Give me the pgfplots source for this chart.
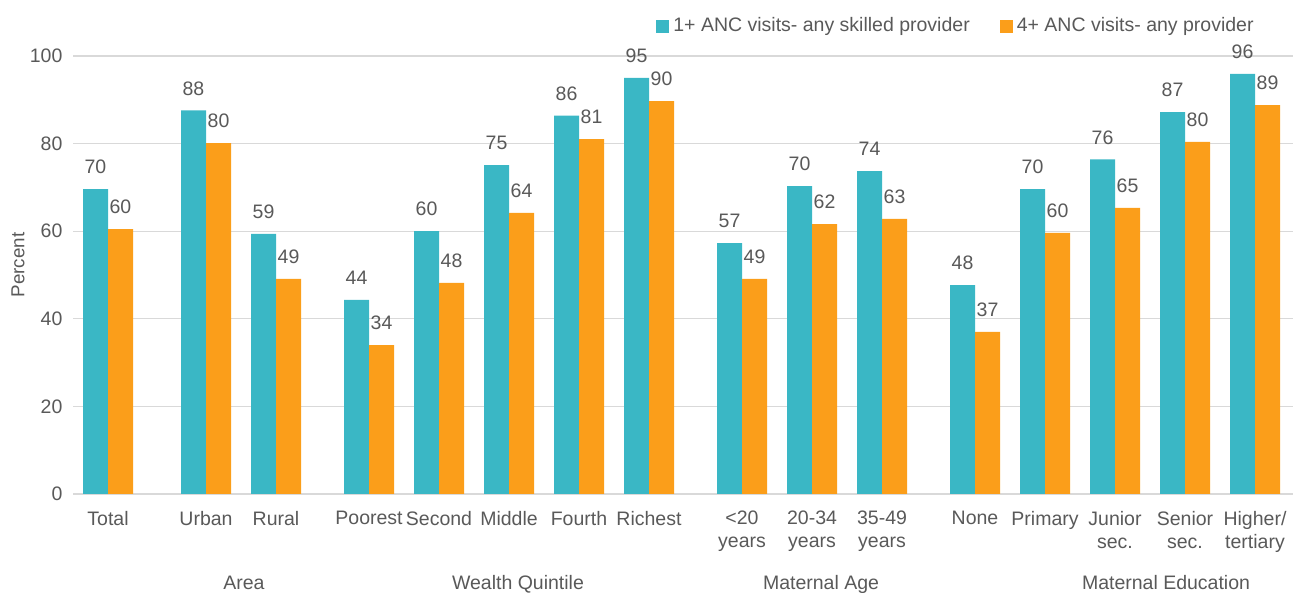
\documentclass[border=0pt]{standalone}
\usepackage{pgfplots}
\pgfplotsset{compat=1.18}
\usepackage{pgfplotstable}
\usepackage{fontspec}
\setmainfont{Liberation Sans}

\definecolor{tealbar}{HTML}{3AB7C5}
\definecolor{orangebar}{HTML}{FB9E1A}
\definecolor{txt}{HTML}{595959}
\definecolor{gridc}{HTML}{D9D9D9}

\newcommand\lbl{\fontsize{9.75}{11.5}\selectfont}

% x = position of the category, a = 1+ ANC (skilled), b = 4+ ANC (any); al/bl = printed labels
\pgfplotstableread{
x     a     al  b     bl
108   69.6  70  60.5  60
206   87.6  88  80.1  80
276   59.4  59  49.1  49
369   44.3  44  34.0  34
439   60.0  60  48.2  48
509   75.1  75  64.2  64
579   86.4  86  81.0  81
649   95.0  95  89.7  90
742   57.3  57  49.1  49
812   70.3  70  61.6  62
882   73.7  74  62.8  63
975   47.7  48  37.0  37
1045  69.6  70  59.6  60
1115  76.4  76  65.3  65
1185  87.2  87  80.4  80
1255  95.9  96  88.8  89
}\anc

\begin{document}
\begin{tikzpicture}
\begin{axis}[
  scale only axis,
  width=610pt, height=219pt,
  xmin=73, xmax=1293, ymin=0, ymax=100,
  clip=false,
  axis line style={draw=none},
  tick style={draw=none},
  ybar=0pt,
  bar width=25,
  ytick={0,20,...,100},
  ymajorgrids,
  grid style={gridc, line width=0.6pt},
  xtick={108,206,276,369,439,509,579,649,742,812,882,975,1045,1115,1185,1255},
  xticklabels={Total,Urban,Rural,Poorest,Second,Middle,Fourth,Richest,
    {<20\\years},{20-34\\years},{35-49\\years},
    None,Primary,{Junior\\sec.},{Senior\\sec.},{Higher/\\tertiary}},
  tick label style={font=\lbl, text=txt},
  /pgf/number format/assume math mode=true,
  xticklabel style={align=center, yshift=-0.75pt},
  yticklabel style={xshift=-1.75pt},
  ylabel={Percent},
  ylabel style={font=\fontsize{9.4}{10}\selectfont, text=txt,
    at={(axis description cs:-0.045,0.523)}, anchor=center},
  nodes near coords,
  point meta=explicit symbolic,
  every node near coord/.append style={font=\lbl, text=txt, anchor=center, yshift=11pt},
  legend columns=2,
  legend style={at={(axis cs:656,106.8)}, anchor=west, draw=none, fill=none,
    inner sep=0pt, font=\lbl, text=txt,
    /tikz/every even column/.append style={column sep=13pt}},
  sq/.style={legend image code/.code={\fill[##1] (0pt,-3.25pt) rectangle (6.5pt,3.25pt);}},
]
\addplot[fill=tealbar, draw=none, bar shift=-12.5, sq] table[x=x, y=a, meta=al] {\anc};
\addlegendentry{1+ ANC visits- any skilled provider}
\addplot[fill=orangebar, draw=none, bar shift=12.5, sq] table[x=x, y=b, meta=bl] {\anc};
\addlegendentry{4+ ANC visits- any provider}

\node[font=\lbl, text=txt, anchor=base] at (axis cs:244,-21.9) {Area};
\node[font=\lbl, text=txt, anchor=base] at (axis cs:518,-21.9) {Wealth Quintile};
\node[font=\lbl, text=txt, anchor=base] at (axis cs:821,-21.9) {Maternal Age};
\node[font=\lbl, text=txt, anchor=base] at (axis cs:1166,-21.9) {Maternal Education};

\coordinate (bbnw) at (axis cs:0,112.785);
\coordinate (bbse) at (axis cs:1295,-22.603);
\end{axis}
\pgfresetboundingbox
\path (bbnw) rectangle (bbse);
\end{tikzpicture}
\end{document}
